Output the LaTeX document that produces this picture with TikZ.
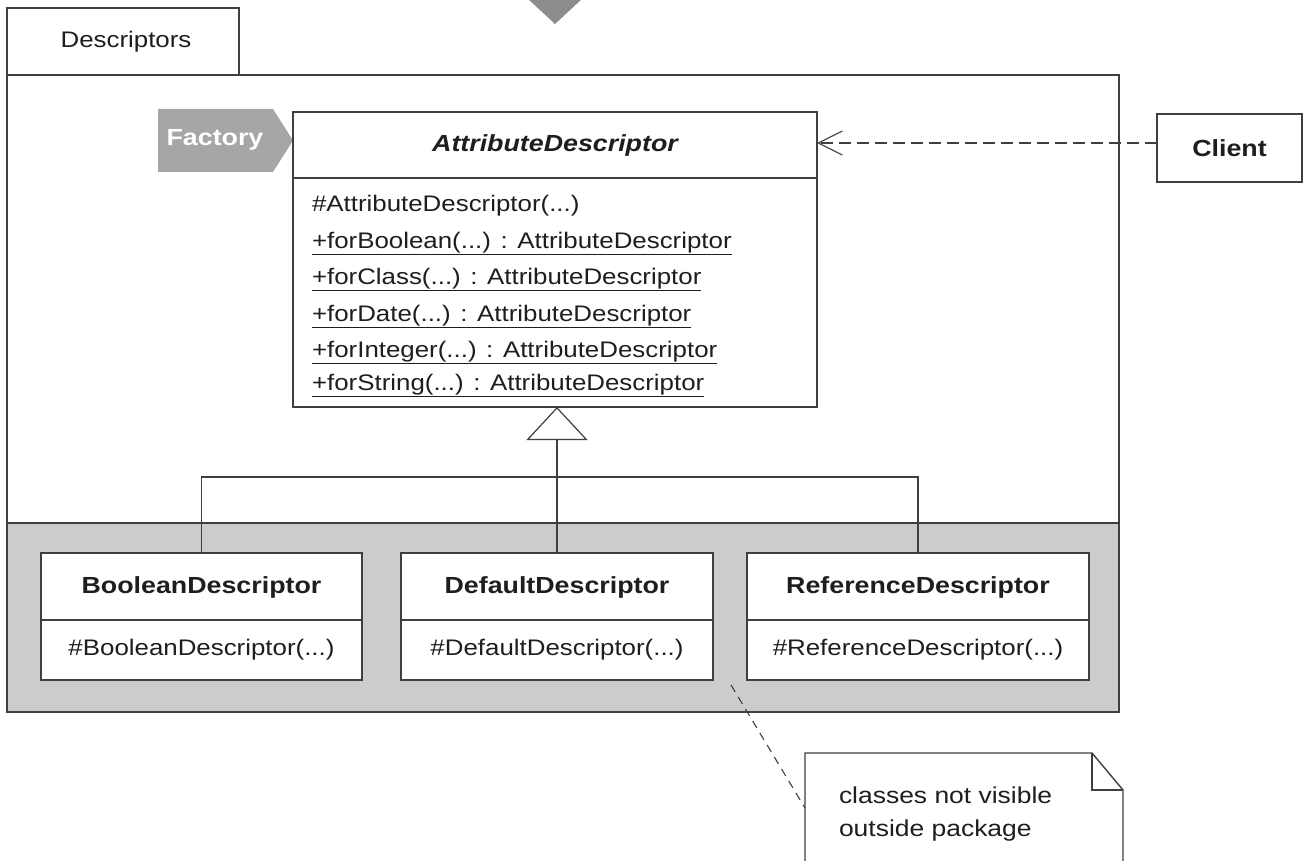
\documentclass[tikz,border=0pt]{standalone}
\usepackage{fontspec}
\setmainfont{Liberation Sans}[FakeStretch=1.15]
\usetikzlibrary{arrows.meta}
\definecolor{linecol}{HTML}{3F3F3F}
\definecolor{bandcol}{HTML}{CCCCCC}
\definecolor{tagcol}{HTML}{A6A6A6}
\definecolor{topcol}{HTML}{8C8C8C}
\definecolor{txtcol}{HTML}{1E1E1E}
\newcommand\regsz{\fontsize{22.5}{27}\selectfont}
\newcommand\boldsz{\fontsize{23.3}{28}\selectfont\bfseries}
\begin{document}
\begin{tikzpicture}[x=1pt,y=-1pt,
  ln/.style={draw=linecol, line width=1.4pt},
  boxn/.style={ln, fill=white, inner sep=0pt, outer sep=0pt},
  txt/.style={inner sep=0pt, outer sep=0pt, text=txtcol, font=\regsz},
  btxt/.style={inner sep=0pt, outer sep=0pt, text=txtcol, font=\boldsz},
  conn/.style={draw=linecol, line width=1.2pt},
  dep/.style={conn, dash pattern=on 12pt off 6pt, -{Straight Barb[length=24pt, width=24pt, line width=1.2pt]}},
  gen/.style={conn, -{Triangle[open, length=33pt, width=61pt, fill=white, line width=1.2pt]}},
  notedash/.style={draw=linecol, line width=1.1pt, dash pattern=on 8pt off 6pt}]
\useasboundingbox (0,0) rectangle (1305,861);
\clip (0,0) rectangle (1305,861);
% top triangle
\fill[topcol] (527,-2) -- (583,-2) -- (555,24) -- cycle;
% package
\draw[ln, fill=white] (7,8) rectangle (239,75);
\node[txt] (pkgname) at (126,42) {Descriptors};
\fill[bandcol] (7,523) rectangle (1119,712);
\draw[ln] (7,75) rectangle (1119,712);
\draw[ln] (7,523) -- (1119,523);
% factory tag
\fill[tagcol] (158,109) -- (273,109) -- (293,140.5) -- (273,172) -- (158,172) -- cycle;
\node[inner sep=0pt, text=white, font=\boldsz] (factory) at (215,140) {Factory};
% AttributeDescriptor
\node[boxn, minimum width=524pt, minimum height=295pt] (attr) at (555,259.5) {};
\draw[ln] (293,178) -- (817,178);
\node[btxt, font=\boldsz\itshape] (attrT) at (555,145) {AttributeDescriptor};
\node[txt, anchor=base west] (m1) at (312,211) {\#AttributeDescriptor(...)};
\node[txt, anchor=base west] (m2) at (312,248) {\underline{+forBoolean(...) : AttributeDescriptor}};
\node[txt, anchor=base west] (m3) at (312,284) {\underline{+forClass(...) : AttributeDescriptor}};
\node[txt, anchor=base west] (m4) at (312,321) {\underline{+forDate(...) : AttributeDescriptor}};
\node[txt, anchor=base west] (m5) at (312,357) {\underline{+forInteger(...) : AttributeDescriptor}};
\node[txt, anchor=base west] (m6) at (312,390) {\underline{+forString(...) : AttributeDescriptor}};
% subclasses
\node[boxn, minimum width=321pt, minimum height=127pt] (bool) at (201.5,616.5) {};
\draw[ln] (41,620) -- (362,620);
\node[btxt] (boolT) at (201.5,587) {BooleanDescriptor};
\node[txt] (boolM) at (201.5,650) {\#BooleanDescriptor(...)};
\node[boxn, minimum width=312pt, minimum height=127pt] (def) at (557,616.5) {};
\draw[ln] (401,620) -- (713,620);
\node[btxt] (defT) at (557,587) {DefaultDescriptor};
\node[txt] (defM) at (557,650) {\#DefaultDescriptor(...)};
\node[boxn, minimum width=342pt, minimum height=127pt] (ref) at (918,616.5) {};
\draw[ln] (747,620) -- (1089,620);
\node[btxt] (refT) at (918,587) {ReferenceDescriptor};
\node[txt] (refM) at (918,650) {\#ReferenceDescriptor(...)};
% generalization
\coordinate (hb) at (557,477);
\draw[conn] (bool.north) |- (hb) -| (ref.north);
\draw[gen] (def.north) -- (def.north |- attr.south);
% client
\node[boxn, minimum width=145pt, minimum height=68pt, text=txtcol, font=\boldsz] (client) at (1229.5,148) {Client};
\coordinate (cl) at (1157,143);
\draw[dep] (cl) -- (cl -| attr.east);
% note
\draw[ln, fill=white] (805,753) -- (1092,753) -- (1123,790) -- (1123,880) -- (805,880) -- cycle;
\draw[ln] (1092,753) -- (1092,790) -- (1123,790);
\node[txt, anchor=base west, font=\fontsize{23}{28}\selectfont] (note1) at (839,803) {classes not visible};
\node[txt, anchor=base west, font=\fontsize{23}{28}\selectfont] (note2) at (839,836) {outside package};
\coordinate (noteL) at (805,808);
\coordinate (nstart) at (731,685);
\draw[notedash] (nstart) -- (noteL);
\end{tikzpicture}
\end{document}
